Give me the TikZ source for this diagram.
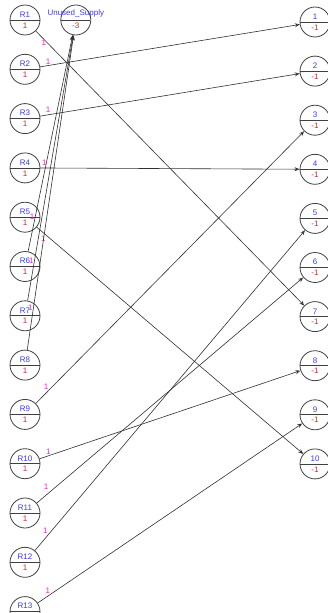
\documentclass[tikz,border=0pt]{standalone}
\usepackage{fontspec}
\setmainfont{Liberation Sans}
\usetikzlibrary{positioning, arrows.meta, shapes.multipart}
\definecolor{rim}{HTML}{404040}
\definecolor{namecol}{HTML}{3A3AF0}
\definecolor{valcol}{HTML}{C62828}
\definecolor{flowcol}{HTML}{F020D0}
\definecolor{wire}{HTML}{303030}

\begin{document}
\begin{tikzpicture}[x=1pt, y=-1pt,
    site/.style={circle split, draw=rim, line width=0.8pt, minimum size=30pt,
      inner xsep=1pt, inner ysep=2.2pt, font=\fontsize{8}{9}\selectfont, text=namecol,
      every lower node part/.style={text=valcol}},
    flow/.style={-{Stealth[open, length=5pt, width=4pt]}, wire, line width=0.6pt},
    amt/.style={text=flowcol, font=\fontsize{8}{9}\selectfont, inner sep=0.5pt}]
  \useasboundingbox (0,0) rectangle (328,613);
  % supply side
  \node[site] (r1) at (25,20) {R1\nodepart{lower}1};
  \node[site, below=18.5pt of r1] (r2) {R2\nodepart{lower}1};
  \node[site, below=18.5pt of r2] (r3) {R3\nodepart{lower}1};
  \node[site, below=18.5pt of r3] (r4) {R4\nodepart{lower}1};
  \node[site, below=18.5pt of r4] (r5) {R5\nodepart{lower}1};
  \node[site, below=18.5pt of r5] (r6) {R6\nodepart{lower}1};
  \node[site, below=18.5pt of r6] (r7) {R7\nodepart{lower}1};
  \node[site, below=18.5pt of r7] (r8) {R8\nodepart{lower}1};
  \node[site, below=18.5pt of r8] (r9) {R9\nodepart{lower}1};
  \node[site, below=18.5pt of r9] (r10) {R10\nodepart{lower}1};
  \node[site, below=18.5pt of r10] (r11) {R11\nodepart{lower}1};
  \node[site, below=18.5pt of r11] (r12) {R12\nodepart{lower}1};
  \node[site, below=18.5pt of r12] (r13) {R13\nodepart{lower}1};
  \node[site, right=20pt of r1] (u) {\makebox[0pt]{Unused\_Supply}\nodepart{lower}-3};
  % demand side
  \node[site] (t1) at (315,22) {1\nodepart{lower}-1};
  \node[site, below=18.3pt of t1] (t2) {2\nodepart{lower}-1};
  \node[site, below=18.3pt of t2] (t3) {3\nodepart{lower}-1};
  \node[site, below=18.3pt of t3] (t4) {4\nodepart{lower}-1};
  \node[site, below=18.3pt of t4] (t5) {5\nodepart{lower}-1};
  \node[site, below=18.3pt of t5] (t6) {6\nodepart{lower}-1};
  \node[site, below=18.3pt of t6] (t7) {7\nodepart{lower}-1};
  \node[site, below=18.3pt of t7] (t8) {8\nodepart{lower}-1};
  \node[site, below=18.3pt of t8] (t9) {9\nodepart{lower}-1};
  \node[site, below=18.3pt of t9] (t10) {10\nodepart{lower}-1};
  % shipments
  \draw[flow] (r1) -- node[amt, pos=0.03, below] {1} (t7);
  \draw[flow] (r2) -- node[amt, pos=0.03, above] {1} (t1);
  \draw[flow] (r3) -- node[amt, pos=0.03, above=1.5pt] {1} (t2);
  \draw[flow] (r4) -- node[amt, pos=0.015, above=1.5pt] {1} (t4);
  \draw[flow] (r5) -- node[amt, pos=0.025, below=2pt] {1} (t10);
  \draw[flow] (r6) -- node[amt, pos=0.16, left] {1} (u);
  \draw[flow] (r7) -- node[amt, pos=0.15, left] {1} (u);
  \draw[flow] (r8) -- node[amt, pos=0.135, left] {1} (u);
  \draw[flow] (r9) -- node[amt, pos=0.05, above left] {1} (t3);
  \draw[flow] (r10) -- node[amt, pos=0.034, above] {1} (t8);
  \draw[flow] (r11) -- node[amt, pos=0.05, above left=1.5pt] {1} (t6);
  \draw[flow] (r12) -- node[amt, pos=0.05, above left] {1} (t5);
  \draw[flow] (r13) -- node[amt, pos=0.05, above left] {1} (t9);
\end{tikzpicture}
\end{document}
